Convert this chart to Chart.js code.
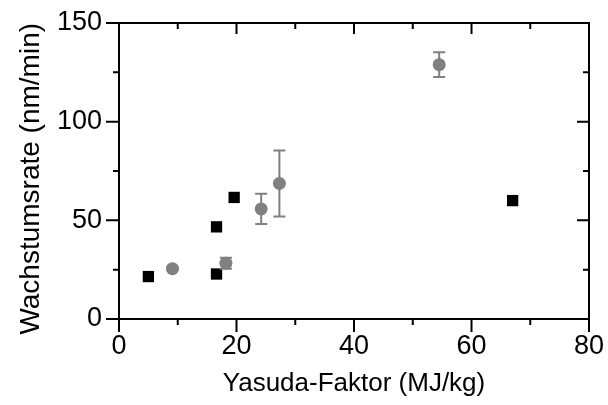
<!DOCTYPE html>
<html>
<head>
<meta charset="utf-8">
<script src="https://cdn.jsdelivr.net/npm/chart.js@4/dist/chart.umd.min.js"></script>
<style>
  html, body { margin: 0; padding: 0; background: #fff; }
  #wrap { width: 608px; height: 405px; }
</style>
</head>
<body>
<div id="wrap"><canvas id="c" width="608" height="405"></canvas></div>
<script>
// Growth rate vs. Yasuda factor: two sample series
const blackX = [5.0, 16.6, 16.6, 19.6, 67.0];
const blackY = [21.5, 22.8, 46.7, 61.6, 60.0];

const greyX = [9.1, 18.2, 24.2, 27.3, 54.5];
const greyY = [25.5, 28.3, 55.8, 68.7, 128.9];
const greyErr = [0.8, 2.8, 7.7, 16.7, 6.3];

// Axis ticks
const xMajor = [0, 20, 40, 60, 80];
const xMinor = [10, 30, 50, 70];
const yMajor = [0, 50, 100, 150];
const yMinor = [25, 75, 125];

const GREY = '#808080';
const FONT = 'Liberation Sans, Arial, Helvetica, sans-serif';

const toPoints = (xs, ys) => xs.map((x, i) => ({ x: x, y: ys[i] }));

// Vertical error bars with caps, drawn through the scales
const errorBars = {
  id: 'errorBars',
  afterDatasetsDraw(chart) {
    const ctx = chart.ctx;
    const xs = chart.scales.x, ys = chart.scales.y;
    ctx.save();
    ctx.strokeStyle = GREY;
    ctx.lineWidth = 2;
    greyX.forEach((x, i) => {
      const px = xs.getPixelForValue(x);
      const top = ys.getPixelForValue(greyY[i] + greyErr[i]);
      const bot = ys.getPixelForValue(greyY[i] - greyErr[i]);
      const cap = 6;
      ctx.beginPath();
      ctx.moveTo(px, top); ctx.lineTo(px, bot);
      ctx.moveTo(px - cap, top); ctx.lineTo(px + cap, top);
      ctx.moveTo(px - cap, bot); ctx.lineTo(px + cap, bot);
      ctx.stroke();
    });
    ctx.restore();
  }
};

// Closed frame with outward ticks (bottom/left) and inward ticks (top/right)
const frame = {
  id: 'frame',
  afterDraw(chart) {
    const ctx = chart.ctx;
    const a = chart.chartArea;
    const xs = chart.scales.x, ys = chart.scales.y;
    ctx.save();
    ctx.strokeStyle = '#000';
    ctx.lineWidth = 2;
    ctx.beginPath();
    ctx.moveTo(a.left, a.top); ctx.lineTo(a.right, a.top);
    ctx.lineTo(a.right, a.bottom); ctx.lineTo(a.left, a.bottom);
    ctx.closePath();
    ctx.stroke();
    ctx.beginPath();
    const xt = (v, len) => {
      const p = xs.getPixelForValue(v);
      ctx.moveTo(p, a.bottom); ctx.lineTo(p, a.bottom + len);
      ctx.moveTo(p, a.top); ctx.lineTo(p, a.top + (len > 7 ? 11 : 6));
    };
    const yt = (v, len) => {
      const p = ys.getPixelForValue(v);
      ctx.moveTo(a.left, p); ctx.lineTo(a.left - len, p);
      ctx.moveTo(a.right, p); ctx.lineTo(a.right - (len > 7 ? 12 : 6), p);
    };
    xMajor.forEach(v => xt(v, 13));
    xMinor.forEach(v => xt(v, 6));
    yMajor.forEach(v => yt(v, 13));
    yMinor.forEach(v => yt(v, 6));
    ctx.stroke();
    ctx.restore();
  }
};

new Chart(document.getElementById('c'), {
  type: 'scatter',
  data: {
    datasets: [
      {
        label: 'Serie A',
        data: toPoints(blackX, blackY),
        pointStyle: 'rect',
        pointRadius: 8,
        pointHoverRadius: 8,
        backgroundColor: '#000',
        borderColor: '#000',
        borderWidth: 0
      },
      {
        label: 'Serie B',
        data: toPoints(greyX, greyY),
        pointStyle: 'circle',
        pointRadius: 6.5,
        pointHoverRadius: 6.5,
        backgroundColor: GREY,
        borderColor: GREY,
        borderWidth: 0
      }
    ]
  },
  options: {
    responsive: false,
    animation: false,
    events: [],
    layout: { padding: { top: 23, right: 19, left: 0, bottom: 0 } },
    plugins: { legend: { display: false }, tooltip: { enabled: false } },
    scales: {
      x: {
        type: 'linear',
        min: 0, max: 80,
        afterBuildTicks: s => { s.ticks = xMajor.map(v => ({ value: v })); },
        afterFit: s => { s.height = 86; s.paddingLeft = 0; s.paddingRight = 0; },
        grid: { display: false, drawTicks: false },
        border: { display: false },
        ticks: { color: '#000', padding: 11, font: { family: FONT, size: 27 }, maxRotation: 0 },
        title: {
          display: true,
          text: 'Yasuda-Faktor (MJ/kg)',
          color: '#000',
          font: { family: FONT, size: 26 },
          padding: { top: 0, bottom: 6 }
        }
      },
      y: {
        type: 'linear',
        min: 0, max: 150,
        afterBuildTicks: s => { s.ticks = yMajor.map(v => ({ value: v })); },
        afterFit: s => { s.width = 119; s.paddingTop = 0; s.paddingBottom = 0; },
        grid: { display: false, drawTicks: false },
        border: { display: false },
        ticks: { color: '#000', padding: 17, font: { family: FONT, size: 27 } },
        title: {
          display: true,
          // trailing spaces nudge the rotated title slightly downward
          text: 'Wachstumsrate (nm/min)  ',
          color: '#000',
          font: { family: FONT, size: 28 },
          padding: { top: 14, bottom: 0 }
        }
      }
    }
  },
  plugins: [errorBars, frame]
});
</script>
</body>
</html>
